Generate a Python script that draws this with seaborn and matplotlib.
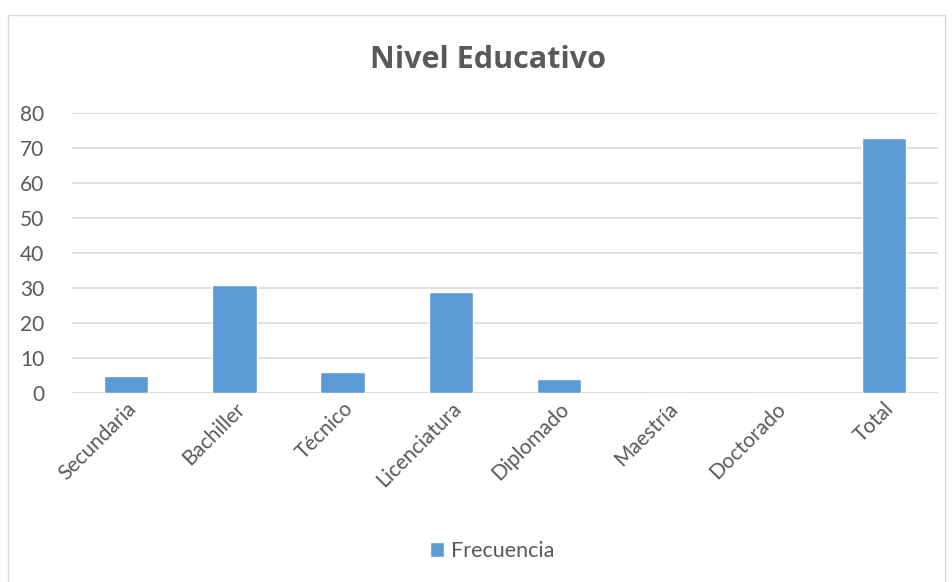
import numpy as np
import pandas as pd
import matplotlib
matplotlib.use("Agg")
import matplotlib.pyplot as plt
import seaborn as sns
from matplotlib.patches import Rectangle, Patch

# Data
categorias = ["Secundaria", "Bachiller", "Técnico", "Licenciatura",
              "Diplomado", "Maestría", "Doctorado", "Total"]
frecuencia = [5, 31, 6, 29, 4, 0, 0, 73]
y_ticks = [0, 10, 20, 30, 40, 50, 60, 70, 80]

df = pd.DataFrame({"Nivel": categorias, "Frecuencia": frecuencia})

sns.set_style("white")
plt.rcParams["font.family"] = ["Lato", "DejaVu Sans"]

bar_color = "#5B9BD5"
text_color = "#595959"

fig = plt.figure(figsize=(9.53, 5.82), dpi=100)
ax = fig.add_axes([72 / 953, 1 - 393 / 582, (938 - 72) / 953, (393 - 113) / 582])

sns.barplot(data=df, x="Nivel", y="Frecuencia", color=bar_color,
            width=0.41, saturation=1, ax=ax, zorder=3)

ax.set_ylim(0, 80)
ax.set_xlim(-0.5, len(categorias) - 0.5)
ax.set_yticks(y_ticks)
ax.yaxis.grid(True, color="#D9D9D9", linewidth=1.2, zorder=0)
ax.set_axisbelow(True)
for s in ax.spines.values():
    s.set_visible(False)
ax.axhline(0, color="#D9D9D9", linewidth=1.2, zorder=1)

ax.set_xlabel("")
ax.set_ylabel("")
ax.tick_params(axis="y", length=0, pad=20, labelsize=15, labelcolor=text_color)
ax.tick_params(axis="x", length=0, pad=4, labelsize=15, labelcolor=text_color)
plt.setp(ax.get_xticklabels(), rotation=45, ha="right", rotation_mode="anchor")

fig.text(488 / 953, 1 - 60 / 582, "Nivel Educativo", ha="center", va="center",
         fontsize=22, fontweight="bold", color=text_color,
         family=["Open Sans", "DejaVu Sans"])

# Legend
leg = fig.legend(handles=[Patch(facecolor=bar_color, label="Frecuencia")],
                 loc="center", bbox_to_anchor=(492 / 953, 1 - 551 / 582),
                 frameon=False, fontsize=15.5, handlelength=0.65, handleheight=0.65,
                 handletextpad=0.3)
for t in leg.get_texts():
    t.set_color(text_color)

# Chart frame
fig.patches.append(Rectangle((8 / 953, -0.01), (945 - 8) / 953, 1 - 15 / 582 + 0.01,
                             transform=fig.transFigure, fill=False,
                             edgecolor="#D9D9D9", linewidth=1))

fig.savefig("out.png", dpi=100)
